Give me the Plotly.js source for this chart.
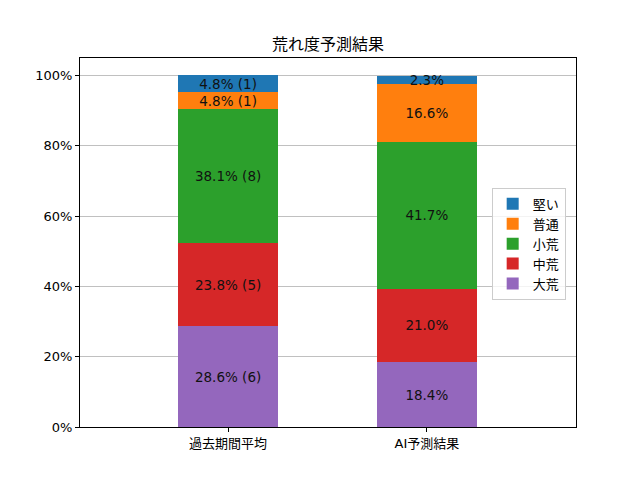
<!DOCTYPE html>
<html><head><meta charset="utf-8">
<script src="https://cdn.plot.ly/plotly-3.0.1.min.js"></script>
<style>body{margin:0;background:#fff}</style>
</head><body><div id="chart" style="width:640px;height:480px"></div>
<script>
const categories = ["過去期間平均", "AI予測結果"];
const seriesNames = ["大荒", "中荒", "小荒", "普通", "堅い"];
const daiare = [28.6, 18.4];
const chuare = [23.8, 21.0];
const shoare = [38.1, 41.7];
const futsu = [4.8, 16.6];
const katai = [4.8, 2.3];
const daiareCount = [6, null];
const chuareCount = [5, null];
const shoareCount = [8, null];
const futsuCount = [1, null];
const kataiCount = [1, null];
const yTickVals = [0, 20, 40, 60, 80, 100];
const yTickText = ["0%", "20%", "40%", "60%", "80%", "100%"];

const colors = ["#9467bd", "#d62728", "#2ca02c", "#ff7f0e", "#1f77b4"];
const values = [daiare, chuare, shoare, futsu, katai];
const counts = [daiareCount, chuareCount, shoareCount, futsuCount, kataiCount];
const FONT = "'DejaVu Sans', 'Noto Sans CJK JP', sans-serif";
const JFONT = "'Noto Sans CJK JP', 'DejaVu Sans', sans-serif";

const traces = seriesNames.map((name, i) => ({
  type: "bar",
  name: name,
  x: categories,
  y: values[i],
  width: 0.5,
  marker: {color: colors[i], line: {width: 0}},
  text: values[i].map((v, j) => counts[i][j] != null ? v.toFixed(1) + "% (" + counts[i][j] + ")" : v.toFixed(1) + "%"),
  textposition: "inside",
  insidetextanchor: "middle",
  constraintext: "none",
  textangle: 0,
  textfont: {family: FONT, size: 13.5, color: "#111"},
  hoverinfo: "none"
}));

const layout = {
  width: 640, height: 480,
  barmode: "stack",
  paper_bgcolor: "#fff", plot_bgcolor: "#fff",
  margin: {l: 80, r: 64, t: 58, b: 53, pad: 0},
  font: {family: FONT, size: 13, color: "#000"},
  title: {text: "荒れ度予測結果", x: 0.5125, xanchor: "center", y: 0.908, yanchor: "middle", font: {family: JFONT, size: 16, color: "#000"}},
  xaxis: {
    type: "category", range: [-0.745, 1.75],
    showline: true, mirror: true, linecolor: "#000", linewidth: 1,
    ticks: "outside", ticklen: 4, tickcolor: "#000", showgrid: false,
    tickfont: {family: FONT, size: 13, color: "#000"}
  },
  yaxis: {
    range: [0, 105], tickvals: yTickVals, ticktext: yTickText,
    showline: true, mirror: true, linecolor: "#000", linewidth: 1,
    ticks: "outside", ticklen: 4, tickcolor: "#000",
    showgrid: true, gridcolor: "#b0b0b0", gridwidth: 0.8, zeroline: false,
    tickfont: {family: FONT, size: 13, color: "#000"}
  },
  legend: {
    x: 0.83, y: 0.648, xanchor: "left", yanchor: "top",
    traceorder: "reversed",
    bgcolor: "rgba(255,255,255,0.8)", bordercolor: "#cccccc", borderwidth: 1,
    font: {family: JFONT, size: 13, color: "#000"},
    tracegroupgap: 0, itemwidth: 30
  },
  showlegend: true
};

Plotly.newPlot("chart", traces, layout, {staticPlot: true, displayModeBar: false});
</script></body></html>
